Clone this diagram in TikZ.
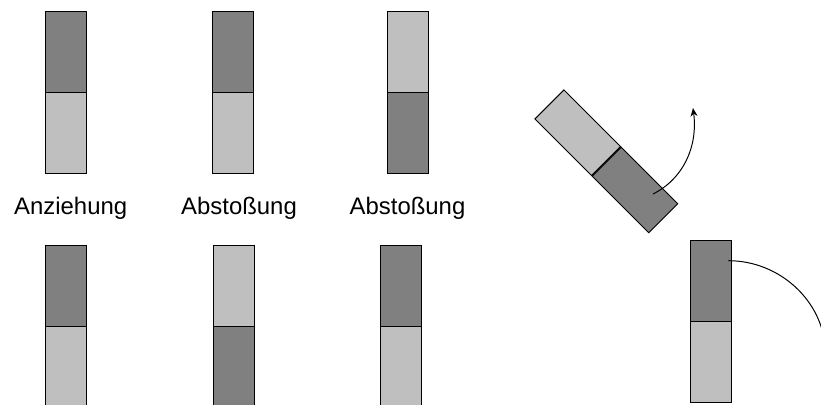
\documentclass[tikz,border=0pt]{standalone}
\usepackage{fontspec}
\setmainfont{Liberation Sans}
\usepackage{tikz}
\usetikzlibrary{positioning,arrows.meta}

\begin{document}
\begin{tikzpicture}[x=0.025cm,y=0.025cm,
	pol/.style={rectangle,draw,line width=0.7pt,inner sep=0pt,minimum width=1.025cm,minimum height=2cm},
	dunkel/.style={pol,fill=black!50},
	hell/.style={pol,fill=black!25},
	drehung/.style={-{Stealth[length=6pt,width=5pt,inset=2pt]},line width=0.7pt},
	label/.style={font=\fontsize{17}{20}\selectfont,anchor=base}]
\useasboundingbox (0,0) rectangle (821,405);
\clip (0,0) rectangle (821,405);
% obere Reihe
\node [dunkel] (a1) at (66,353) {};
\node [hell, below=0pt of a1] (a2) {};
\node [dunkel] (b1) at (233,353) {};
\node [hell, below=0pt of b1] (b2) {};
\node [hell] (c1) at (407.5,353) {};
\node [dunkel, below=0pt of c1] (c2) {};
% Beschriftung
\node [label] (ta) at (70.7,190) {Anziehung};
\node [label] (tb) at (239,190) {Abstoßung};
\node [label] (tc) at (407.5,190) {Abstoßung};
% untere Reihe
\node [dunkel] (d1) at (66,119) {};
\node [hell, below=0pt of d1] (d2) {};
\node [hell] (e1) at (233.5,119) {};
\node [dunkel, below=0pt of e1] (e2) {};
\node [dunkel] (f1) at (401,119) {};
\node [hell, below=0pt of f1] (f2) {};
% gedrehter Magnet
\node [hell, rotate=45] (s1) at (577.7,272.3) {};
\node [dunkel, rotate=45, anchor=north] (s2) at (s1.south) {};
\coordinate (p1) at (653,211);
\coordinate (q1) at (693,297);
\draw [drehung] (p1) .. controls (683,226) and (698,258) .. (q1);
% rechter Magnet
\node [dunkel] (r1) at (710.5,124) {};
\node [hell, below=0pt of r1] (r2) {};
\coordinate (p2) at (728.3,144.3);
\draw [drehung] (p2) arc [start angle=90, end angle=2, radius=97];
\end{tikzpicture}
\end{document}
